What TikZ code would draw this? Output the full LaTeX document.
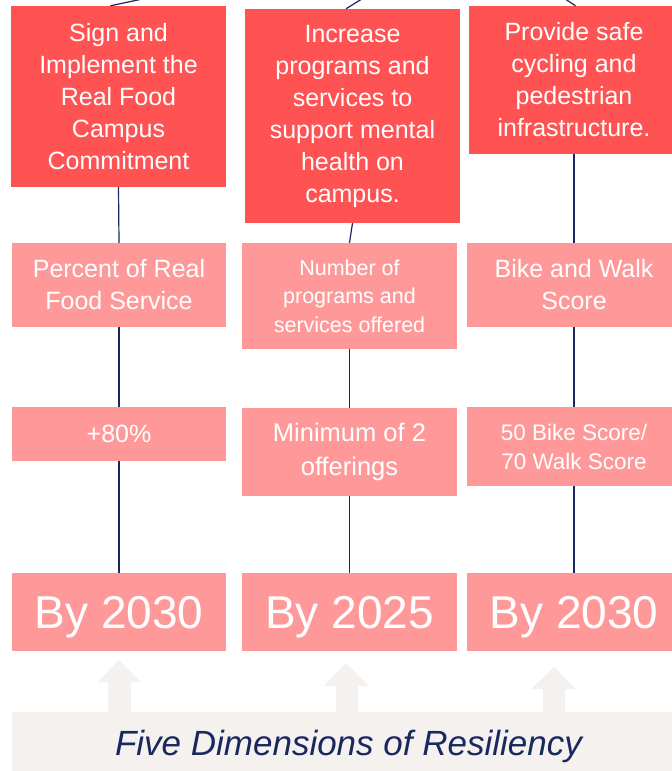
\documentclass[tikz,border=0pt]{standalone}
\usepackage{fontspec}
\setmainfont{Liberation Sans}
\definecolor{goalred}{HTML}{FF5252}
\definecolor{pinkbox}{HTML}{FF9999}
\definecolor{navy}{HTML}{1A2860}
\definecolor{beige}{HTML}{F4F1EE}
\tikzset{
  goalbox/.style={fill=goalred, text=white, align=center, inner sep=0pt, minimum width=215bp,
    font=\fontsize{25bp}{32bp}\selectfont},
  metricbox/.style={fill=pinkbox, text=white, align=center, inner sep=0pt, minimum width=215bp},
  yearbox/.style={metricbox, minimum height=78bp, text depth=0pt, font=\fontsize{46bp}{50bp}\selectfont},
  link/.style={draw=navy, line width=1.2bp},
  uparrow/.style={fill=beige, draw=none}
}
\begin{document}
\begin{tikzpicture}[x=1bp,y=-1bp]
\useasboundingbox (0,0) rectangle (672,771);
\clip (0,0) rectangle (672,771);
\fill[white] (0,0) rectangle (672,771);

% top goals
\node[goalbox, minimum height=181bp] (t1) at (118.5,96.5) {Sign and\\Implement the\\Real Food\\Campus\\Commitment};
\node[goalbox, minimum height=214bp] (t2) at (352.5,116) {Increase\\programs and\\services to\\support mental\\health on\\campus.};
\node[goalbox, minimum height=148bp, minimum width=210bp] (t3) at (574,80) {Provide safe\\cycling and\\pedestrian\\infrastructure.};

% metric row
\node[metricbox, minimum width=214bp, minimum height=84bp, font=\fontsize{25bp}{32bp}\selectfont] (m1) at (119,285) {Percent of Real\\Food Service};
\node[metricbox, minimum height=106bp, font=\fontsize{21.5bp}{28.5bp}\selectfont] (m2) at (349.5,296) {Number of\\programs and\\services offered};
\node[metricbox, minimum width=214bp, minimum height=84bp, font=\fontsize{25bp}{32bp}\selectfont] (m3) at (574,285) {Bike and Walk\\Score};

% target row
\node[metricbox, minimum width=214bp, minimum height=54bp, text depth=0pt, font=\fontsize{25bp}{32bp}\selectfont] (g1) at (119,434) {+80\%};
\node[metricbox, minimum height=88bp, font=\fontsize{25.5bp}{34bp}\selectfont] (g2) at (349.5,452) {Minimum of 2\\offerings};
\node[metricbox, minimum width=214bp, minimum height=79bp, font=\fontsize{22.5bp}{29bp}\selectfont] (g3) at (574,446.5) {50 Bike Score/\\70 Walk Score};

% year row
\node[yearbox, minimum width=214bp] (y1) at (119,612) {By 2030};
\node[yearbox] (y2) at (349.5,612) {By 2025};
\node[yearbox, minimum width=214bp] (y3) at (574,612) {By 2030};

% free ends above
\coordinate (c1) at (140,-0.5);
\coordinate (c2) at (361,-0.5);
\coordinate (c3) at (566,-0.5);
\draw[link] ([xshift=-8bp]t1.north) -- (c1);
\draw[link] ([xshift=-6.5bp]t2.north) -- (c2);
\draw[link] ([xshift=1.5bp]t3.north) -- (c3);

% connectors
\draw[link] (t1.south) -- (m1.north);
\draw[link] (m1.south) -- (g1.north);
\draw[link] (g1.south) -- (y1.north);
\draw[link] (t2.south) -- (m2.north);
\draw[link] (m2.south) -- (g2.north);
\draw[link] (g2.south) -- (y2.north);
\draw[link] (t3.south) -- (m3.north);
\draw[link] (m3.south) -- (g3.north);
\draw[link] (g3.south) -- (y3.north);

% arrows
\fill[uparrow] (119,660) -- (141,682) -- (131,682) -- (131,713) -- (108,713) -- (108,682) -- (98,682) -- cycle;
\fill[uparrow] (346,663) -- (369,686) -- (358,686) -- (358,713) -- (336,713) -- (336,686) -- (324,686) -- cycle;
\fill[uparrow] (554,667) -- (576,689) -- (565,689) -- (565,713) -- (543,713) -- (543,689) -- (531,689) -- cycle;

% banner
\node[fill=beige, minimum width=680bp, minimum height=62bp, inner sep=0pt, anchor=north west] (banner) at (12,712) {};
\node[text=navy, inner sep=0pt, font=\fontsize{35bp}{38bp}\selectfont\itshape] (bt) at (348.5,746) {Five Dimensions of Resiliency};
\end{tikzpicture}
\end{document}
